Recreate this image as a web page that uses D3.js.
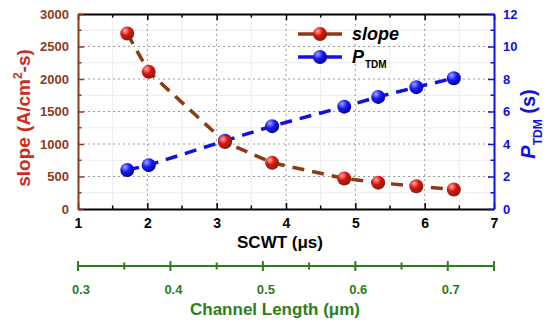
<!DOCTYPE html>
<html><head><meta charset="utf-8">
<script src="https://cdn.jsdelivr.net/npm/d3@7"></script>
<style>body{margin:0;background:#fff}svg{display:block;font-family:"Liberation Sans",Arial,sans-serif;font-weight:bold}</style>
</head><body><svg id="c" width="550" height="326"></svg>
<script>
const scwt = [1.71, 2.02, 3.12, 3.80, 4.84, 5.33, 5.88, 6.42];
const slope = [2700, 2110, 1030, 710, 470, 405, 350, 300];
const ptdm = [2.4, 2.7, 4.2, 5.1, 6.3, 6.9, 7.5, 8.05];
const xTicks = [1, 2, 3, 4, 5, 6, 7];
const slopeTicks = [0, 500, 1000, 1500, 2000, 2500, 3000];
const pTicks = [0, 2, 4, 6, 8, 10, 12];
const chTicks = [0.3, 0.4, 0.5, 0.6, 0.7];

const svg = d3.select("#c");
const L = 78, R = 494, T = 14, B = 209;
const x = d3.scaleLinear().domain([1, 7]).range([L, R]);
const yS = d3.scaleLinear().domain([0, 3000]).range([B, T]);
const yP = d3.scaleLinear().domain([0, 12]).range([B, T]);
const xC = d3.scaleLinear().domain([0.3, 0.75]).range([L, R]);

const brown = "#8B3A1A", titleRed = "#D02A1E", blue = "#1010E8", green = "#2E7D1E";

const defs = svg.append("defs");
function grad(id, c0, c1, c2) {
  const g = defs.append("radialGradient").attr("id", id).attr("cx", "35%").attr("cy", "30%").attr("r", "75%");
  g.append("stop").attr("offset", "0%").attr("stop-color", c0);
  g.append("stop").attr("offset", "45%").attr("stop-color", c1);
  g.append("stop").attr("offset", "100%").attr("stop-color", c2);
}
grad("gr", "#ffb0a0", "#e01010", "#6a2a08");
grad("gb", "#a0a8ff", "#1a1aff", "#00007a");

const minorX = d3.range(1.5, 7, 1);
const minorY = d3.range(250, 3000, 500);
svg.append("g").selectAll("line").data(minorX).join("line")
  .attr("x1", d => x(d)).attr("x2", d => x(d)).attr("y1", T).attr("y2", B)
  .attr("stroke", "#ececec").attr("stroke-width", 1);
svg.append("g").selectAll("line").data(minorY).join("line")
  .attr("y1", d => yS(d)).attr("y2", d => yS(d)).attr("x1", L).attr("x2", R)
  .attr("stroke", "#ececec").attr("stroke-width", 1);
svg.append("g").selectAll("line").data(xTicks.slice(1, -1)).join("line")
  .attr("x1", d => x(d)).attr("x2", d => x(d)).attr("y1", T).attr("y2", B)
  .attr("stroke", "#999").attr("stroke-width", 1).attr("stroke-dasharray", "2,3");
svg.append("g").selectAll("line").data(slopeTicks.slice(1, -1)).join("line")
  .attr("y1", d => yS(d)).attr("y2", d => yS(d)).attr("x1", L).attr("x2", R)
  .attr("stroke", "#999").attr("stroke-width", 1).attr("stroke-dasharray", "2,3");

function styleAxis(g, col) {
  g.select(".domain").attr("stroke", col).attr("stroke-width", 2);
  g.selectAll(".tick line").attr("stroke", col).attr("stroke-width", 1.5);
}
const gB = svg.append("g").attr("transform", `translate(0,${B})`)
  .call(d3.axisBottom(x).tickValues(xTicks).tickSizeInner(-6).tickSizeOuter(0).tickPadding(9).tickFormat(d3.format("d")));
styleAxis(gB, "#000");
gB.selectAll(".tick text").attr("font-size", 14).attr("font-weight", "bold").attr("fill", "#000").attr("font-family", "Liberation Sans");
svg.append("g").selectAll("line").data(minorX).join("line")
  .attr("x1", d => x(d)).attr("x2", d => x(d)).attr("y1", B).attr("y2", B - 3.5).attr("stroke", "#000").attr("stroke-width", 1.5);
const gT = svg.append("g").attr("transform", `translate(0,${T})`)
  .call(d3.axisTop(x).tickValues(xTicks).tickSizeInner(-6).tickSizeOuter(0).tickFormat(""));
styleAxis(gT, "#000");
svg.append("g").selectAll("line").data(minorX).join("line")
  .attr("x1", d => x(d)).attr("x2", d => x(d)).attr("y1", T).attr("y2", T + 3.5).attr("stroke", "#000").attr("stroke-width", 1.5);
const gL = svg.append("g").attr("transform", `translate(${L},0)`)
  .call(d3.axisLeft(yS).tickValues(slopeTicks).tickSizeInner(-6).tickSizeOuter(0).tickPadding(9).tickFormat(d3.format("d")));
styleAxis(gL, brown);
gL.selectAll(".tick text").attr("font-size", 13).attr("font-weight", "bold").attr("fill", brown).attr("font-family", "Liberation Sans");
svg.append("g").selectAll("line").data(minorY).join("line")
  .attr("y1", d => yS(d)).attr("y2", d => yS(d)).attr("x1", L).attr("x2", L + 3.5).attr("stroke", brown).attr("stroke-width", 1.5);
const gR = svg.append("g").attr("transform", `translate(${R},0)`)
  .call(d3.axisRight(yP).tickValues(pTicks).tickSizeInner(-6).tickSizeOuter(0).tickPadding(9).tickFormat(d3.format("d")));
styleAxis(gR, blue);
gR.selectAll(".tick text").attr("font-size", 13).attr("font-weight", "bold").attr("fill", blue).attr("font-family", "Liberation Sans");
svg.append("g").selectAll("line").data(d3.range(1, 12, 2)).join("line")
  .attr("y1", d => yP(d)).attr("y2", d => yP(d)).attr("x1", R).attr("x2", R - 3.5).attr("stroke", blue).attr("stroke-width", 1.5);

svg.append("text").attr("x", 280).attr("y", 248).attr("text-anchor", "middle")
  .attr("font-size", 17).attr("fill", "#000").text("SCWT (μs)");
const lt = svg.append("text").attr("transform", "translate(30,118) rotate(-90)").attr("text-anchor", "middle")
  .attr("font-size", 19).attr("fill", titleRed);
lt.append("tspan").text("slope (A/cm");
lt.append("tspan").attr("font-size", 12).attr("dy", -8).text("2");
lt.append("tspan").attr("dy", 8).text("-s)");
const rt = svg.append("text").attr("transform", "translate(535,124) rotate(-90)").attr("text-anchor", "middle")
  .attr("font-size", 20).attr("fill", blue);
rt.append("tspan").attr("font-style", "italic").text("P");
rt.append("tspan").attr("font-size", 12).attr("dy", 7).text("TDM");
rt.append("tspan").attr("dy", -7).text(" (s)");

const lineS = d3.line().x((d, i) => x(scwt[i])).y(d => yS(d));
const lineP = d3.line().x((d, i) => x(scwt[i])).y(d => yP(d));
svg.append("path").attr("d", lineS(slope)).attr("fill", "none").attr("stroke", "#8B3A12")
  .attr("stroke-width", 3.5).attr("stroke-dasharray", "12,8");
svg.append("path").attr("d", lineP(ptdm)).attr("fill", "none").attr("stroke", "#1010E0")
  .attr("stroke-width", 3.5).attr("stroke-dasharray", "12,8");
svg.append("g").selectAll("circle").data(ptdm).join("circle")
  .attr("cx", (d, i) => x(scwt[i])).attr("cy", d => yP(d)).attr("r", 7).attr("fill", "url(#gb)");
svg.append("g").selectAll("circle").data(slope).join("circle")
  .attr("cx", (d, i) => x(scwt[i])).attr("cy", d => yS(d)).attr("r", 7).attr("fill", "url(#gr)");

const leg = svg.append("g");
leg.append("line").attr("x1", 298).attr("x2", 342).attr("y1", 34).attr("y2", 34).attr("stroke", "#8B3A12").attr("stroke-width", 3.5);
leg.append("circle").attr("cx", 320).attr("cy", 34).attr("r", 7).attr("fill", "url(#gr)");
leg.append("text").attr("x", 352).attr("y", 40).attr("font-size", 18).attr("font-style", "italic").attr("fill", "#000").text("slope");
leg.append("line").attr("x1", 298).attr("x2", 342).attr("y1", 57).attr("y2", 57).attr("stroke", "#1010E0").attr("stroke-width", 3.5);
leg.append("circle").attr("cx", 320).attr("cy", 57).attr("r", 7).attr("fill", "url(#gb)");
const lt2 = leg.append("text").attr("x", 352).attr("y", 63).attr("font-size", 18).attr("fill", "#000");
lt2.append("tspan").attr("font-style", "italic").text("P");
lt2.append("tspan").attr("font-size", 10).attr("dy", 5).attr("dx", 1).text("TDM");

const CY = 266;
svg.append("line").attr("x1", xC(0.3)).attr("x2", xC(0.75)).attr("y1", CY).attr("y2", CY).attr("stroke", green).attr("stroke-width", 2);
const chAll = d3.range(0.3, 0.7501, 0.05);
svg.append("g").selectAll("line").data(chAll).join("line")
  .attr("x1", d => xC(d)).attr("x2", d => xC(d))
  .attr("y1", (d, i) => CY - (i % 2 === 0 || i === chAll.length - 1 ? 5 : 3.5))
  .attr("y2", (d, i) => CY + (i % 2 === 0 || i === chAll.length - 1 ? 5 : 3.5))
  .attr("stroke", green).attr("stroke-width", 2);
svg.append("g").selectAll("text").data(chTicks).join("text")
  .attr("x", d => xC(d) + 3).attr("y", 294).attr("text-anchor", "middle").attr("font-size", 13).attr("fill", green)
  .text(d => d.toFixed(1));
svg.append("text").attr("x", 275).attr("y", 315).attr("text-anchor", "middle").attr("font-size", 17).attr("fill", green)
  .text("Channel Length (μm)");
</script></body></html>
